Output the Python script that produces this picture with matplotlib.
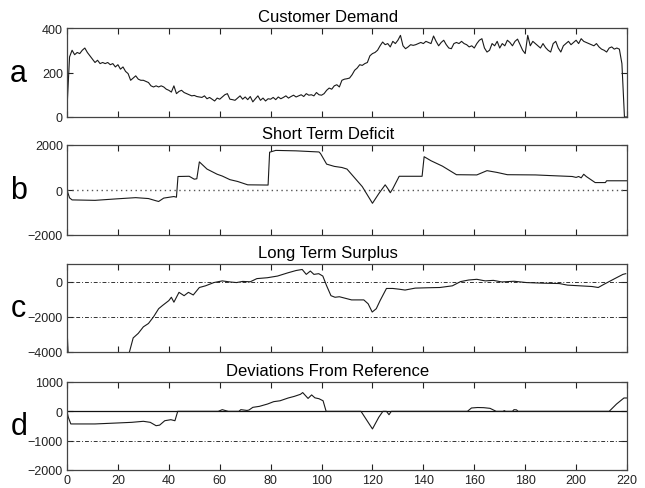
import numpy as np
import matplotlib
matplotlib.use('Agg')
import matplotlib.pyplot as plt

plt.rcParams['font.family'] = ['Liberation Sans', 'DejaVu Sans']

# customer demand, one value per time step 0..220
demand = [40, 270, 300, 280, 290, 285, 300, 310, 290, 275,
          260, 245, 255, 240, 245, 240, 245, 235, 240, 225,
          235, 215, 225, 205, 195, 165, 175, 185, 170, 165,
          165, 160, 155, 140, 135, 140, 135, 140, 135, 125,
          120, 112, 140, 105, 115, 120, 110, 105, 100, 95,
          97, 92, 90, 88, 95, 82, 88, 80, 72, 85,
          80, 90, 100, 105, 80, 78, 75, 85, 95, 80,
          90, 78, 92, 68, 82, 95, 75, 85, 72, 82,
          80, 88, 78, 90, 82, 88, 95, 85, 92, 98,
          90, 95, 100, 92, 105, 98, 100, 95, 110, 100,
          98, 105, 120, 130, 125, 140, 145, 135, 165, 170,
          172, 175, 190, 210, 220, 235, 232, 240, 245, 275,
          285, 290, 300, 320, 337, 325, 330, 315, 340, 330,
          345, 367, 320, 307, 315, 325, 322, 325, 330, 335,
          330, 340, 335, 330, 364, 340, 320, 335, 345, 325,
          310, 307, 330, 335, 330, 340, 330, 325, 315, 320,
          310, 330, 345, 352, 310, 292, 300, 330, 320, 340,
          310, 330, 320, 345, 335, 320, 340, 350, 325, 300,
          285, 367, 320, 340, 330, 320, 310, 330, 312, 300,
          292, 330, 340, 310, 292, 320, 330, 340, 325, 335,
          345, 330, 352, 340, 335, 330, 325, 320, 330, 315,
          305, 300, 292, 310, 315, 305, 310, 305, 240, 0,
          0]
demandTime = np.arange(len(demand))

# short term deficit (breakpoints)
deficitTime = [0, 1, 2, 11, 20, 27, 32, 35, 36, 38, 42, 43, 43.6, 48, 50, 51, 52,
               55, 59, 61, 64, 67, 71, 79, 79.6, 82, 90, 99, 99.6, 102, 105, 108,
               110, 116, 120, 122.5, 125, 126, 127, 128, 130.5, 139.5, 140.3, 143,
               147.5, 153, 161, 165, 169, 173, 184, 190, 198.5, 200, 201, 202, 203,
               204, 207.5, 211.5, 212, 220]
deficit = [0, -350, -440, -460, -390, -340, -380, -480, -510, -360, -290, -320,
           600, 610, 480, 500, 1250, 930, 700, 620, 460, 380, 230, 220, 1680, 1760,
           1740, 1690, 1620, 1150, 1050, 1000, 930, 150, -590, -160, 230, 70, -120,
           60, 610, 610, 1480, 1300, 1060, 680, 670, 860, 780, 680, 670, 640, 600,
           560, 600, 540, 700, 600, 330, 330, 410, 410]

# long term surplus (breakpoints)
surplusTime = [0, 1, 23, 24.6, 26, 28, 30, 32, 34, 36, 37.5, 40, 41, 42, 44, 46,
               47.7, 49.6, 52, 54.4, 57.7, 61, 64, 66.6, 69, 72, 74.6, 78.7, 82.7,
               86.8, 90, 92.4, 94, 95.6, 97, 98.9, 100.5, 102, 103.7, 105.3, 107,
               109.4, 111.8, 116.6, 118.3, 119.9, 121.5, 123, 125.5, 128, 130.4,
               132.8, 136.8, 141.7, 146.5, 151.4, 154.6, 157.8, 161, 164.3, 167.5,
               170.8, 175.6, 180.5, 187, 193.4, 196.6, 201.5, 206.3, 208.7, 211,
               215.2, 218.4, 219.5]
surplus = [-2600, -6000, -4600, -3960, -3200, -2940, -2570, -2380, -2000, -1540,
           -1360, -1080, -890, -1170, -610, -800, -610, -760, -335, -240, -55, 40,
           -20, -55, 10, -10, 170, 220, 315, 500, 630, 690, 410, 600, 410, 450, 315,
           -240, -800, -890, -860, -950, -1040, -1040, -1260, -1730, -1540, -1080,
           -390, -390, -430, -480, -370, -350, -335, -240, 0, 90, 130, 40, 70, -20,
           20, -55, -90, -110, -200, -240, -280, -335, -150, 170, 410, 450]

# deviations from reference (breakpoints)
deviationTime = [0, 0.5, 1.5, 11, 19, 25.4, 30, 32.7, 35, 36.4, 38.4, 40.8, 42.4,
                 43.5, 59.4, 61, 62.5, 63.4, 67.5, 68.3, 70.7, 71.5, 73, 75.6, 78.8,
                 81.2, 83.7, 86.9, 89.3, 91.7, 92.6, 94.7, 96.1, 97.4, 99, 100.6,
                 101.8, 115.5, 120, 122.5, 124.1, 125.5, 126.5, 127.4, 157.3, 158.9,
                 161.3, 163.7, 166.2, 168.6, 171.3, 171.8, 172.3, 175, 175.6, 176.6,
                 177.2, 213, 215.9, 218.8, 220]
deviation = [0, -200, -430, -430, -400, -375, -340, -375, -490, -470, -320, -285,
             -320, 0, 0, 57, 20, 0, 0, 57, 30, 45, 136, 170, 250, 330, 360, 455, 510,
             580, 640, 440, 560, 460, 430, 360, 0, 0, -600, -200, 0, 0, -115, 0, 0,
             114, 130, 125, 102, 0, 0, 25, 0, 0, 57, 50, 0, 0, 250, 455, 455]

titles = ['Customer Demand', 'Short Term Deficit', 'Long Term Surplus',
          'Deviations From Reference']
letters = ['a', 'b', 'c', 'd']
yLimits = [(0, 400), (-2000, 2000), (-4000, 1000), (-2000, 1000)]
yTicks = [[0, 200, 400], [-2000, 0, 2000], [-4000, -2000, 0],
          [-2000, -1000, 0, 1000]]
xTicks = list(range(0, 221, 20))

# axes boxes in pixels (top, bottom) for a 645x489 figure
boxes = [(29, 118), (146, 236), (265, 353), (383, 471)]
W, H = 645.0, 489.0
left, right = 67, 627

lineColor = '#1a1a1a'
dashDot = (0, (4, 2, 1, 2))

fig = plt.figure(figsize=(6.45, 4.89), dpi=100)
axs = []
for i, (top, bottom) in enumerate(boxes):
    ax = fig.add_axes([left / W, 1 - bottom / H, (right - left) / W, (bottom - top) / H])
    ax.set_xlim(0, 220)
    ax.set_ylim(*yLimits[i])
    ax.set_xticks(xTicks)
    ax.set_yticks(yTicks[i])
    ax.tick_params(direction='in', top=True, right=True, length=4, width=0.8,
                   labelsize=9, pad=3, colors='#222222')
    if i < 3:
        ax.set_xticklabels([])
    for s in ax.spines.values():
        s.set_color('#444444')
        s.set_linewidth(0.9)
    ax.set_title(titles[i], fontsize=12, pad=5, x=0.466)
    fig.text(0.029, 1 - (top + bottom) / 2 / H, letters[i], fontsize=22,
             ha='center', va='center')
    axs.append(ax)

axs[0].plot(demandTime, demand, color=lineColor, lw=0.8)

axs[1].axhline(0, color='#555555', lw=1.0, ls=(0, (1, 2.5)))
axs[1].plot(deficitTime, deficit, color=lineColor, lw=0.8)

axs[2].axhline(0, color='#333333', lw=0.7, ls=dashDot)
axs[2].axhline(-2000, color='#333333', lw=0.7, ls=dashDot)
axs[2].plot(surplusTime, surplus, color=lineColor, lw=0.8)

axs[3].axhline(0, color='#111111', lw=0.9)
axs[3].axhline(-1000, color='#333333', lw=0.7, ls=dashDot)
axs[3].plot(deviationTime, deviation, color=lineColor, lw=0.8)

fig.savefig('out.png', dpi=100)
